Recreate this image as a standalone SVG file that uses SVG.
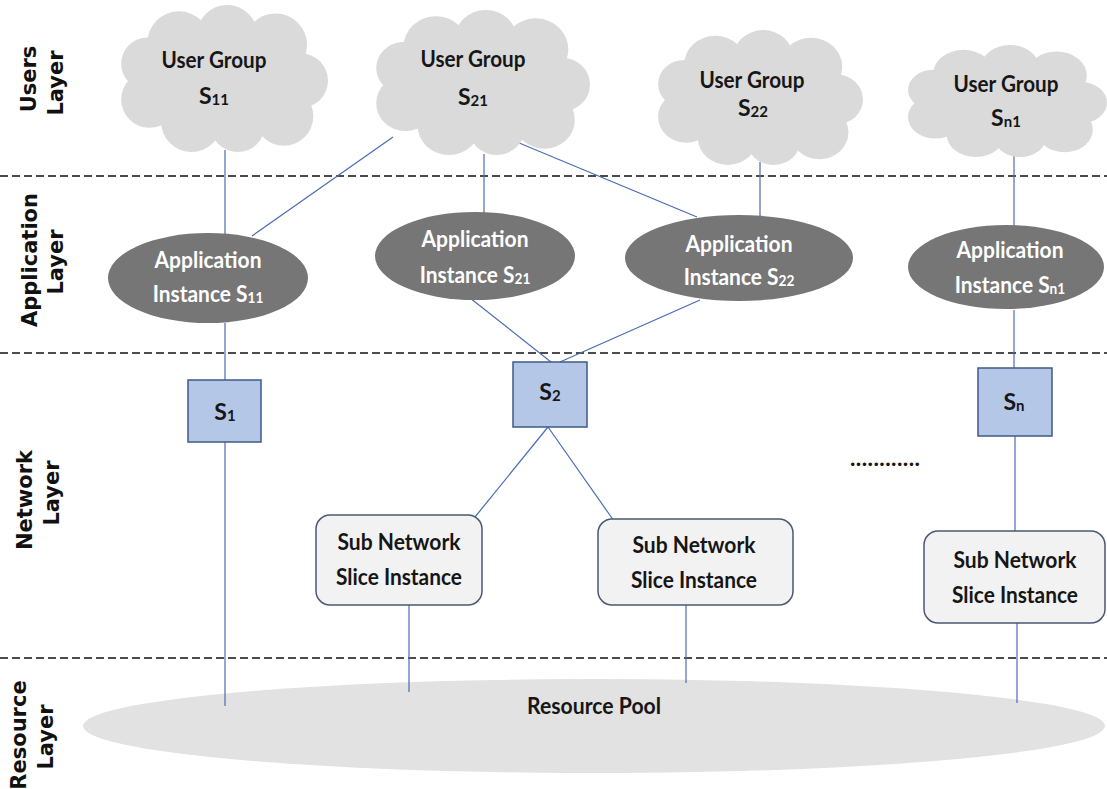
<svg xmlns="http://www.w3.org/2000/svg" xmlns:xlink="http://www.w3.org/1999/xlink" width="1107" height="789" viewBox="0 0 1107 789">
  <style>
    .layer { font-family: "DejaVu Sans", "Liberation Sans", sans-serif; font-weight: bold; font-size: 21px; fill: #111; text-anchor: middle; }
    .lbl { font-family: Lato, "Open Sans", "Liberation Sans", sans-serif; font-weight: bold; font-size: 23px; fill: #161616; text-anchor: middle; }
    .lbl-w { font-family: Lato, "Open Sans", "Liberation Sans", sans-serif; font-weight: bold; font-size: 23px; fill: #ffffff; text-anchor: middle; }
    .sub { font-size: 15px; }
    .sep { stroke: #111; stroke-width: 1.6; stroke-dasharray: 8 4; fill: none; }
    .conn line { stroke: #4a6cb3; stroke-width: 1.2; }
    .cloud { fill: #dadada; }
    .app { fill: #767676; }
    .slice { fill: #b4c7e7; stroke: #3f5a86; stroke-width: 1.5; }
    .subnet { fill: #f2f2f2; stroke: #4a5a72; stroke-width: 1.5; }
    .pool { fill: #e2e2e2; }
  </style>
  <defs>
    <!-- puffy cloud built from overlapping circles -->
    <symbol id="cloud" viewBox="0 0 200 140" preserveAspectRatio="none">
      <g class="cloud">
        <ellipse cx="100" cy="72" rx="75" ry="45"/>
        <circle cx="58" cy="36" r="30"/>
        <circle cx="104" cy="29" r="29"/>
        <circle cx="150" cy="38" r="30"/>
        <circle cx="174" cy="72" r="26"/>
        <circle cx="158" cy="106" r="28"/>
        <circle cx="114" cy="114" r="26"/>
        <circle cx="70" cy="111" r="29"/>
        <circle cx="30" cy="90" r="27"/>
        <circle cx="28" cy="56" r="25"/>
      </g>
    </symbol>
  </defs>

  <rect width="1107" height="789" fill="#ffffff"/>

  <!-- layer boundaries -->
  <g id="separators">
    <line class="sep" x1="0" y1="176" x2="1107" y2="176"/>
    <line class="sep" x1="0" y1="353" x2="1107" y2="353"/>
    <line class="sep" x1="0" y1="658" x2="1107" y2="658"/>
  </g>

  <!-- layer titles -->
  <g id="layer-titles">
    <text class="layer" transform="translate(36,79) rotate(-90)">Users</text>
    <text class="layer" transform="translate(63,83) rotate(-90)">Layer</text>
    <text class="layer" transform="translate(37,260) rotate(-90)">Application</text>
    <text class="layer" transform="translate(63,262) rotate(-90)">Layer</text>
    <text class="layer" transform="translate(32,500) rotate(-90)">Network</text>
    <text class="layer" transform="translate(59,493) rotate(-90)">Layer</text>
    <text class="layer" transform="translate(26,735) rotate(-90)">Resource</text>
    <text class="layer" transform="translate(53,737) rotate(-90)">Layer</text>
  </g>

  <!-- resource pool -->
  <g id="resource-pool">
    <ellipse class="pool" cx="594" cy="726" rx="511" ry="47"/>
    <text class="lbl" x="594" y="714" textLength="134" lengthAdjust="spacingAndGlyphs">Resource Pool</text>
  </g>

  <!-- connectors -->
  <g id="connectors" class="conn">
    <line x1="225" y1="150" x2="225" y2="236"/>
    <line x1="393" y1="137" x2="252" y2="236"/>
    <line x1="484" y1="154" x2="484" y2="213"/>
    <line x1="512" y1="140" x2="697" y2="217"/>
    <line x1="760" y1="162" x2="760" y2="216"/>
    <line x1="1014" y1="155" x2="1014" y2="226"/>
    <line x1="225" y1="323" x2="225" y2="380"/>
    <line x1="470" y1="298" x2="551" y2="362"/>
    <line x1="700" y1="300" x2="560" y2="362"/>
    <line x1="1014" y1="310" x2="1014" y2="368"/>
    <line x1="225" y1="442" x2="225" y2="706"/>
    <line x1="548" y1="427" x2="475" y2="517"/>
    <line x1="548" y1="427" x2="614" y2="521"/>
    <line x1="409" y1="605" x2="409" y2="692"/>
    <line x1="686" y1="605" x2="686" y2="683"/>
    <line x1="1015" y1="436" x2="1015" y2="531"/>
    <line x1="1017" y1="623" x2="1017" y2="703"/>
  </g>

  <!-- user groups -->
  <g id="user-group-s11">
    <use xlink:href="#cloud" x="118" y="5" width="210" height="147"/>
    <text class="lbl" x="214" y="68" textLength="105" lengthAdjust="spacingAndGlyphs">User Group</text>
    <text class="lbl" x="214" y="104">S<tspan class="sub" dy="1">11</tspan></text>
  </g>
  <g id="user-group-s21">
    <use xlink:href="#cloud" x="373" y="10" width="217" height="145"/>
    <text class="lbl" x="473" y="67" textLength="105" lengthAdjust="spacingAndGlyphs">User Group</text>
    <text class="lbl" x="473" y="105">S<tspan class="sub" dy="1">21</tspan></text>
  </g>
  <g id="user-group-s22">
    <use xlink:href="#cloud" x="655" y="30" width="208" height="135"/>
    <text class="lbl" x="752" y="88" textLength="105" lengthAdjust="spacingAndGlyphs">User Group</text>
    <text class="lbl" x="753" y="116">S<tspan class="sub" dy="1">22</tspan></text>
  </g>
  <g id="user-group-sn1">
    <use xlink:href="#cloud" x="905" y="45" width="202" height="112"/>
    <text class="lbl" x="1006" y="92" textLength="105" lengthAdjust="spacingAndGlyphs">User Group</text>
    <text class="lbl" x="1006" y="126">S<tspan class="sub" dy="1">n1</tspan></text>
  </g>

  <!-- application instances -->
  <g id="app-s11">
    <ellipse class="app" cx="208" cy="278" rx="100" ry="45"/>
    <text class="lbl-w" x="208" y="268" textLength="107" lengthAdjust="spacingAndGlyphs">Application</text>
    <text class="lbl-w" transform="translate(208,302) scale(0.91,1)">Instance S<tspan class="sub" dy="1">11</tspan></text>
  </g>
  <g id="app-s21">
    <ellipse class="app" cx="475" cy="256" rx="100" ry="44"/>
    <text class="lbl-w" x="475" y="247" textLength="107" lengthAdjust="spacingAndGlyphs">Application</text>
    <text class="lbl-w" transform="translate(475,283) scale(0.91,1)">Instance S<tspan class="sub" dy="1">21</tspan></text>
  </g>
  <g id="app-s22">
    <ellipse class="app" cx="739" cy="258" rx="114" ry="43"/>
    <text class="lbl-w" x="739" y="252" textLength="107" lengthAdjust="spacingAndGlyphs">Application</text>
    <text class="lbl-w" transform="translate(739,285) scale(0.91,1)">Instance S<tspan class="sub" dy="1">22</tspan></text>
  </g>
  <g id="app-sn1">
    <ellipse class="app" cx="1006" cy="267" rx="98" ry="42"/>
    <text class="lbl-w" x="1010" y="258" textLength="107" lengthAdjust="spacingAndGlyphs">Application</text>
    <text class="lbl-w" transform="translate(1010,293) scale(0.91,1)">Instance S<tspan class="sub" dy="1">n1</tspan></text>
  </g>

  <!-- network slices -->
  <g id="slice-s1">
    <rect class="slice" x="188" y="380" width="73" height="62"/>
    <text class="lbl" x="225" y="420">S<tspan class="sub" dy="1">1</tspan></text>
  </g>
  <g id="slice-s2">
    <rect class="slice" x="513" y="362" width="74" height="65"/>
    <text class="lbl" x="550" y="400">S<tspan class="sub" dy="1">2</tspan></text>
  </g>
  <g id="slice-sn">
    <rect class="slice" x="978" y="368" width="74" height="68"/>
    <text class="lbl" x="1014" y="410">S<tspan class="sub" dy="1">n</tspan></text>
  </g>

  <g id="ellipsis">
    <text class="lbl" x="885" y="466" textLength="70" lengthAdjust="spacing">............</text>
  </g>

  <!-- sub network slice instances -->
  <g id="subnet-1">
    <rect class="subnet" x="316" y="515" width="166" height="90" rx="14"/>
    <text class="lbl" x="399" y="550" textLength="123" lengthAdjust="spacingAndGlyphs">Sub Network</text>
    <text class="lbl" x="399" y="585" textLength="126" lengthAdjust="spacingAndGlyphs">Slice Instance</text>
  </g>
  <g id="subnet-2">
    <rect class="subnet" x="598" y="519" width="195" height="86" rx="14"/>
    <text class="lbl" x="694" y="553" textLength="123" lengthAdjust="spacingAndGlyphs">Sub Network</text>
    <text class="lbl" x="694" y="588" textLength="126" lengthAdjust="spacingAndGlyphs">Slice Instance</text>
  </g>
  <g id="subnet-3">
    <rect class="subnet" x="924" y="531" width="181" height="92" rx="14"/>
    <text class="lbl" x="1015" y="568" textLength="123" lengthAdjust="spacingAndGlyphs">Sub Network</text>
    <text class="lbl" x="1015" y="603" textLength="126" lengthAdjust="spacingAndGlyphs">Slice Instance</text>
  </g>
</svg>
